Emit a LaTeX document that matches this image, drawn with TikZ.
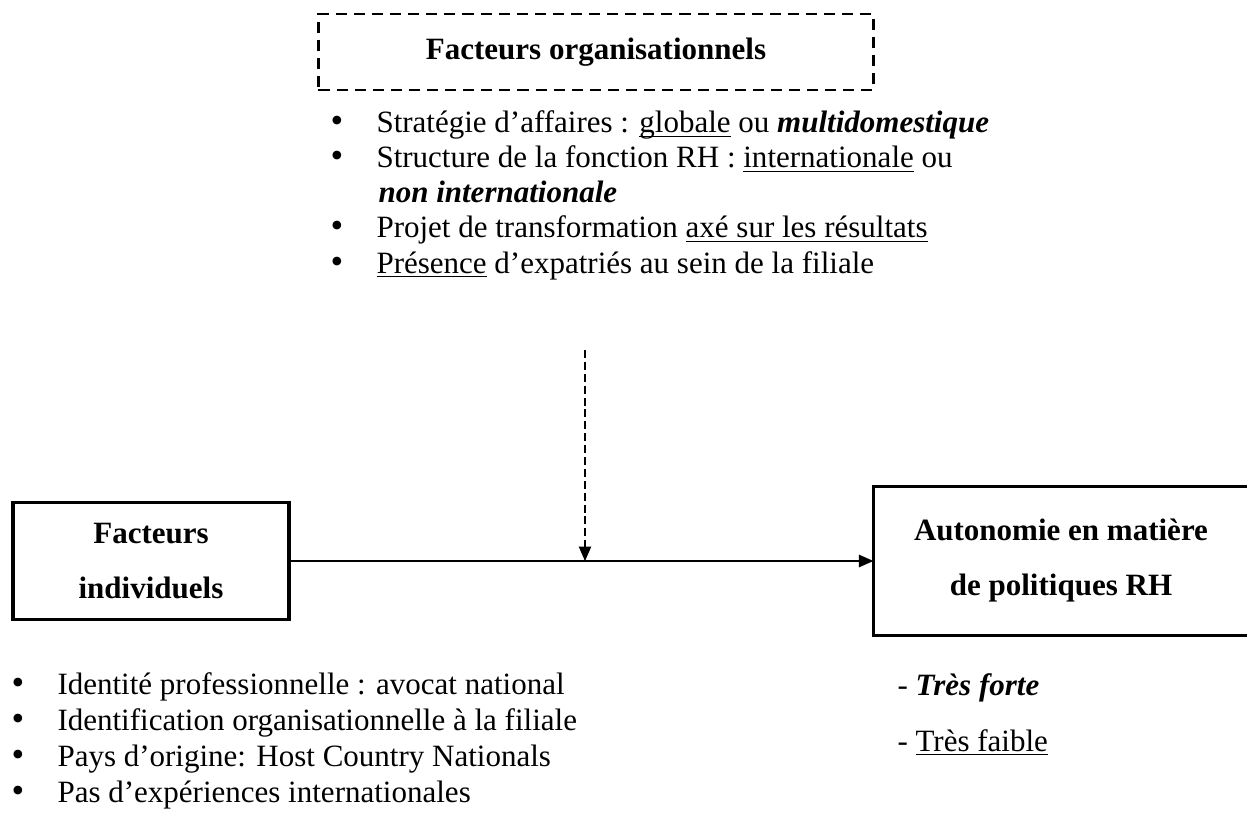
\documentclass[tikz,border=0pt]{standalone}
\usepackage{fontspec}
\setmainfont{Liberation Serif}
\usetikzlibrary{arrows.meta,positioning}
\newcommand{\puce}{\makebox[17.8pt][l]{\fontsize{14pt}{14pt}\selectfont\textbullet}}
\newcommand{\souligne}[1]{\underline{\raisebox{0pt}[\height][0pt]{#1}}}

\begin{document}
\begin{tikzpicture}[x=0.387pt,y=-0.387pt,
  box/.style={line width=1.2pt,align=center,inner sep=0pt,
    font=\fontsize{12pt}{21.3pt}\selectfont\bfseries},
  item/.style={anchor=base west,inner sep=0pt,font=\fontsize{12pt}{13.5pt}\selectfont},
  arrow/.style={-{Triangle[length=5.6pt,width=4.8pt]},line width=0.6pt}]
\useasboundingbox (0,0) rectangle (1247,815);
% facteurs organisationnels
\node[box,draw,line width=1.1pt,dash pattern=on 4.3pt off 2.7pt,
  minimum width=214.8pt,minimum height=29.4pt] (org) at (596,52) {Facteurs organisationnels};
\node[item] (o1) at (330,133) {\puce Stratégie d’affaires : \souligne{globale} ou \textbf{\textit{multidomestique}}};
\node[item] (o2) at (330,168) {\puce Structure de la fonction RH : \souligne{internationale} ou};
\node[item] (o3) at (378,203) {\textbf{\textit{non internationale}}};
\node[item] (o4) at (330,238) {\puce Projet de transformation \souligne{axé sur les résultats}};
\node[item] (o5) at (330,273) {\puce \souligne{Présence} d’expatriés au sein de la filiale};
% facteurs individuels
\node[box,draw,minimum width=106.8pt,minimum height=45.3pt] (indiv) at (151,561) {Facteurs\\individuels};
\node[item] (i1) at (11,694) {\puce Identité professionnelle : avocat national};
\node[item] (i2) at (11,730) {\puce Identification organisationnelle à la filiale};
\node[item] (i3) at (11,766) {\puce Pays d’origine: Host Country Nationals};
\node[item] (i4) at (11,802) {\puce Pas d’expériences internationales};
% autonomie
\node[box,minimum width=144pt,minimum height=56.5pt] (auto) at (1061,561) {Autonomie en matière\\de politiques RH};
\draw[line width=1.2pt] (auto.north east) -- (auto.north west) -- (auto.south west) -- (auto.south east);
\node[item] (a1) at (897,695) {- \textbf{\textit{Très forte}}};
\node[item] (a2) at (897,751) {- \souligne{Très faible}};
% fleches
\draw[arrow] (indiv.east) -- (indiv.east -| auto.west);
\coordinate (drop) at (585,350);
\coordinate (join) at (585,561);
\draw[arrow,line width=0.45pt,dash pattern=on 3.1pt off 1.5pt] (drop) -- (join);
\end{tikzpicture}
\end{document}
